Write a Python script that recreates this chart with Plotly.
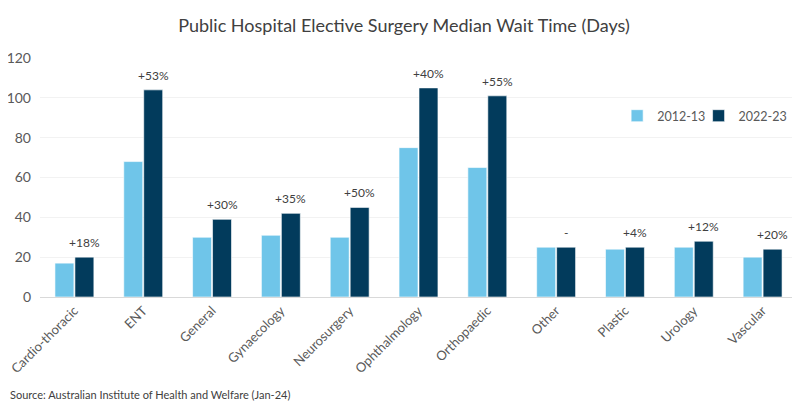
import plotly.graph_objects as go

categories = ["Cardio-thoracic", "ENT", "General", "Gynaecology", "Neurosurgery",
              "Ophthalmology", "Orthopaedic", "Other", "Plastic", "Urology", "Vascular"]
wait_2012 = [17, 68, 30, 31, 30, 75, 65, 25, 24, 25, 20]
wait_2022 = [20, 104, 39, 42, 45, 105, 101, 25, 25, 28, 24]
change_labels = ["+18%", "+53%", "+30%", "+35%", "+50%", "+40%", "+55%", "-", "+4%", "+12%", "+20%"]

light = "#6FC5E9"
dark = "#023B5C"
font_family = "Lato, 'Open Sans', sans-serif"

fig = go.Figure()
fig.add_trace(go.Bar(x=categories, y=wait_2012, name="2012-13", legend="legend",
                     marker=dict(color=light, line=dict(color="white", width=0.6))))
fig.add_trace(go.Bar(x=categories, y=wait_2022, name="2022-23", legend="legend2",
                     marker=dict(color=dark, line=dict(color="white", width=0.6))))

for c, v, t in zip(categories, wait_2022, change_labels):
    fig.add_annotation(x=c, y=v, text=t, xref="x", yref="y", showarrow=False,
                       xshift=10, yshift=5, yanchor="bottom",
                       font=dict(size=12, color="#404040", family=font_family))

fig.add_annotation(x=0, y=-0.41, xref="paper", yref="paper", xanchor="left", yanchor="middle",
                   xshift=-32, showarrow=False,
                   text="Source: Australian Institute of Health and Welfare (Jan-24)",
                   font=dict(size=11, color="#404040", family=font_family))

legend_style = dict(orientation="h", y=0.757, xanchor="left", yanchor="middle",
                    font=dict(size=12.5, color="#595959", family=font_family),
                    bgcolor="rgba(0,0,0,0)", itemwidth=30)

# page body has an 8px margin, so the figure is sized/offset to compensate
fig.update_layout(
    width=792, height=397,
    margin=dict(l=32, r=3, t=50, b=108),
    paper_bgcolor="white", plot_bgcolor="white",
    barmode="group", bargap=0.42, bargroupgap=0.05,
    title=dict(text="Public Hospital Elective Surgery Median Wait Time (Days)",
               x=0.5, xanchor="center", y=0.955, yanchor="middle",
               font=dict(size=18, color="#404040", family=font_family)),
    legend=dict(x=0.7624, **legend_style),
    legend2=dict(x=0.870, **legend_style),
    showlegend=True,
)
fig.update_xaxes(tickangle=-45, tickfont=dict(size=13, color="#595959", family=font_family),
                 showline=True, linecolor="#D9D9D9", linewidth=1, showgrid=False, ticks="",
                 automargin=False)
fig.update_yaxes(range=[0, 120], dtick=20, tickfont=dict(size=14, color="#595959", family=font_family),
                 showgrid=True, gridcolor="#F2F2F2", gridwidth=1, zeroline=False, showline=False,
                 ticks="", ticklabelstandoff=8, automargin=False)

fig.write_html("out.html")
